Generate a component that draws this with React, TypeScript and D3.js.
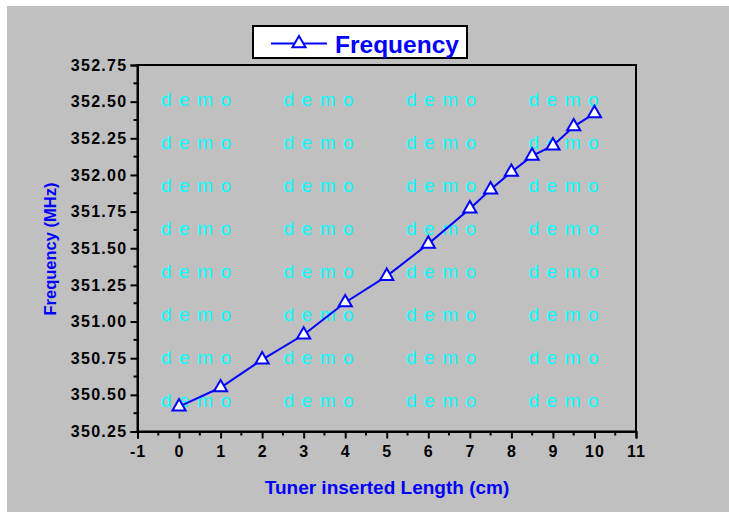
import React, { useEffect, useRef } from 'react';
import * as d3 from 'd3';

// tuner insertion (cm) vs. resonant frequency (MHz)
const lengths = [0, 1, 2, 3, 4, 5, 6, 7, 7.5, 8, 8.5, 9, 9.5, 10];
const freqs = [350.42, 350.55, 350.74, 350.91, 351.13, 351.31, 351.53, 351.77, 351.9, 352.02, 352.13, 352.2, 352.33, 352.42];
const xTicks = [-1, 0, 1, 2, 3, 4, 5, 6, 7, 8, 9, 10, 11];
const yTicks = [350.25, 350.5, 350.75, 351.0, 351.25, 351.5, 351.75, 352.0, 352.25, 352.5, 352.75];
const seriesName = 'Frequency';

const W = 729;
const H = 514;
const FONT = '"Liberation Sans", Arial, sans-serif';
const BLUE = '#0000ff';

const App = () => {
    const ref = useRef<SVGSVGElement>(null);

    useEffect(() => {
        const svg = d3.select(ref.current);
        svg.selectAll('*').remove();

        const left = 137.5, right = 636, top = 65, bottom = 431.5;

        const x = d3.scaleLinear().domain([-1, 11]).range([left, right]);
        const y = d3.scaleLinear().domain([350.25, 352.75]).range([bottom, top]);

        // page background
        svg.append('rect').attr('x', 0).attr('y', 0).attr('width', W).attr('height', H).attr('fill', '#fff');
        svg.append('rect').attr('x', 7).attr('y', 6).attr('width', W - 7).attr('height', H - 8).attr('fill', '#c0c0c0');

        // demo watermark
        const wm = svg.append('g');
        for (let r = 0; r < 8; r++) {
            for (let c = 0; c < 4; c++) {
                wm.append('text')
                    .attr('x', 161 + c * 122.5)
                    .attr('y', 106 + r * 43)
                    .attr('fill', '#00ffff')
                    .attr('font-family', FONT)
                    .attr('font-size', 19)
                    .attr('letter-spacing', 7.5)
                    .text('demo');
            }
        }

        // frame
        svg.append('rect')
            .attr('x', left).attr('y', top)
            .attr('width', right - left).attr('height', bottom - top)
            .attr('fill', 'none').attr('stroke', '#000').attr('stroke-width', 2);

        // minor ticks
        const xMinor = d3.range(-1, 11.01, 0.5).filter((v) => !xTicks.includes(v));
        const yMinor = d3.range(350.25, 352.76, 0.125).filter((v) => !yTicks.some((t) => Math.abs(t - v) < 1e-6));

        const xAxis = svg.append('g').attr('transform', `translate(0, ${bottom})`);
        xAxis.call(d3.axisBottom(x).tickValues(xTicks).tickSize(7).tickPadding(7).tickFormat((d) => String(d)));
        xAxis.selectAll('line').attr('stroke-width', 2);
        xAxis.select('.domain').attr('stroke-width', 2);
        xAxis.selectAll('text')
            .attr('font-family', FONT).attr('font-size', 16).attr('font-weight', 'bold')
            .attr('letter-spacing', 1).attr('fill', '#000');
        xAxis.selectAll('.minor').data(xMinor).enter().append('line')
            .attr('x1', (d) => x(d)).attr('x2', (d) => x(d))
            .attr('y1', 0).attr('y2', 4)
            .attr('stroke', '#000').attr('stroke-width', 2);

        const yAxis = svg.append('g').attr('transform', `translate(${left}, 0)`);
        yAxis.call(d3.axisLeft(y).tickValues(yTicks).tickSize(7).tickPadding(3).tickFormat(d3.format('.2f')));
        yAxis.selectAll('line').attr('stroke-width', 2);
        yAxis.select('.domain').attr('stroke-width', 2);
        yAxis.selectAll('text')
            .attr('font-family', FONT).attr('font-size', 16).attr('font-weight', 'bold')
            .attr('letter-spacing', 1.3).attr('fill', '#000');
        yAxis.selectAll('.minor').data(yMinor).enter().append('line')
            .attr('x1', 0).attr('x2', -4)
            .attr('y1', (d) => y(d)).attr('y2', (d) => y(d))
            .attr('stroke', '#000').attr('stroke-width', 2);

        // axis titles
        svg.append('text')
            .attr('x', 387).attr('y', 494)
            .attr('text-anchor', 'middle')
            .attr('font-family', FONT).attr('font-size', 19).attr('font-weight', 'bold')
            .attr('fill', BLUE)
            .text('Tuner inserted Length (cm)');

        svg.append('text')
            .attr('transform', `translate(56, 249) rotate(-90)`)
            .attr('text-anchor', 'middle')
            .attr('font-family', FONT).attr('font-size', 16.5).attr('font-weight', 'bold')
            .attr('fill', BLUE)
            .text('Frequency (MHz)');

        // series
        const pts = lengths.map((l, i) => [l, freqs[i]] as [number, number]);
        const line = d3.line<[number, number]>().x((d) => x(d[0])).y((d) => y(d[1]));
        svg.append('path')
            .attr('d', line(pts))
            .attr('fill', 'none').attr('stroke', BLUE).attr('stroke-width', 2);

        const tri = d3.symbol().type(d3.symbolTriangle).size(75);
        svg.selectAll('.pt').data(pts).enter().append('path')
            .attr('d', tri())
            .attr('transform', (d) => `translate(${x(d[0])}, ${y(d[1])})`)
            .attr('fill', '#fff').attr('stroke', BLUE).attr('stroke-width', 2);

        // legend
        const lg = svg.append('g');
        lg.append('rect')
            .attr('x', 253).attr('y', 26).attr('width', 214).attr('height', 32)
            .attr('fill', '#fff').attr('stroke', '#000').attr('stroke-width', 2);
        lg.append('line')
            .attr('x1', 271).attr('x2', 327).attr('y1', 43.5).attr('y2', 43.5)
            .attr('stroke', BLUE).attr('stroke-width', 2);
        lg.append('path')
            .attr('d', tri())
            .attr('transform', 'translate(299, 43.5)')
            .attr('fill', '#fff').attr('stroke', BLUE).attr('stroke-width', 2);
        lg.append('text')
            .attr('x', 335).attr('y', 52.5)
            .attr('font-family', FONT).attr('font-size', 24.5).attr('font-weight', 'bold')
            .attr('fill', BLUE)
            .text(seriesName);
    }, []);

    return (
        <svg ref={ref} width={W} height={H} style={{ position: 'absolute', left: 0, top: 0 }} />
    );
};

export default App;
